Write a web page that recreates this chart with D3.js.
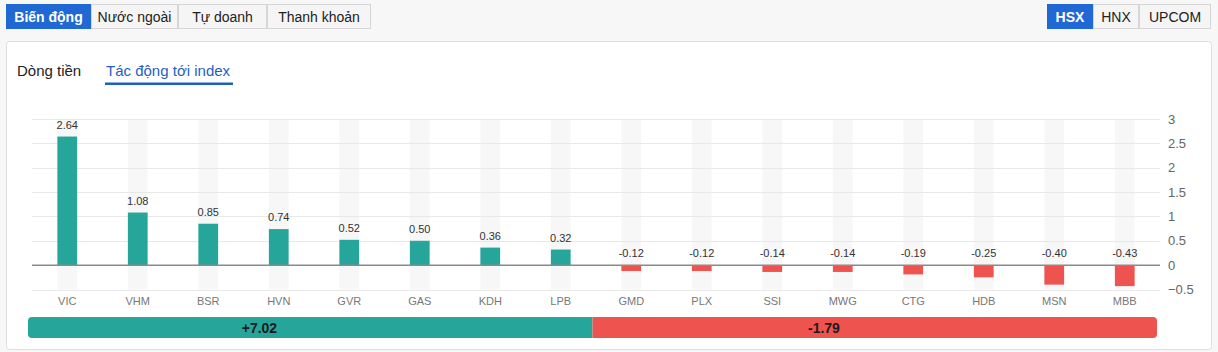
<!DOCTYPE html>
<html lang="vi">
<head>
  <meta charset="UTF-8">
  <title>Tác động tới index</title>
  <script src="https://d3js.org/d3.v7.min.js"></script>
  <style>
    body {
      margin: 0;
      padding: 0;
      background: #f7f7f8;
      font-family: Arial, "Liberation Sans", sans-serif;
    }
    svg { display: block; }
  </style>
</head>
<body>
  <svg id="chart" width="1218" height="352"></svg>

  <script>
    // data
    const tickers = ["VIC", "VHM", "BSR", "HVN", "GVR", "GAS", "KDH", "LPB",
                     "GMD", "PLX", "SSI", "MWG", "CTG", "HDB", "MSN", "MBB"];
    const impacts = [2.64, 1.08, 0.85, 0.74, 0.52, 0.50, 0.36, 0.32,
                     -0.12, -0.12, -0.14, -0.14, -0.19, -0.25, -0.40, -0.43];
    const yTicks = [3, 2.5, 2, 1.5, 1, 0.5, 0, -0.5];
    const totalUp = 7.02;
    const totalDown = -1.79;

    const leftTabs = ["Biến động", "Nước ngoài", "Tự doanh", "Thanh khoản"];
    const rightTabs = ["HSX", "HNX", "UPCOM"];
    const subTabs = ["Dòng tiền", "Tác động tới index"];

    const green = "#26a69a";
    const red = "#ef5350";

    const svg = d3.select("#chart");

    // button groups at the top
    function buttonGroup(labels, x0, widths, active) {
      let bx = x0;
      labels.forEach((label, i) => {
        const g = svg.append("g").attr("transform", `translate(${bx},4)`);
        g.append("rect")
          .attr("x", 0.5).attr("y", 0.5)
          .attr("width", widths[i] - 1).attr("height", 24)
          .attr("fill", i === active ? "#2068d4" : "#f5f5f5")
          .attr("stroke", i === active ? "#2068d4" : "#d6d6d6");
        g.append("text")
          .attr("x", widths[i] / 2).attr("y", 17.5)
          .attr("text-anchor", "middle")
          .attr("font-size", 14)
          .attr("fill", i === active ? "#fff" : "#222")
          .attr("font-weight", i === active ? "bold" : "normal")
          .text(label);
        bx += widths[i];
      });
    }
    buttonGroup(leftTabs, 6, [85, 87, 89, 104], 0);
    buttonGroup(rightTabs, 1047, [46, 46, 72], 0);

    // card
    svg.append("rect")
      .attr("x", 6.5).attr("y", 41.5)
      .attr("width", 1205).attr("height", 308)
      .attr("rx", 3)
      .attr("fill", "#fff")
      .attr("stroke", "#dedee2");

    // sub tabs
    svg.append("text")
      .attr("x", 17).attr("y", 76)
      .attr("font-size", 15).attr("fill", "#222")
      .text(subTabs[0]);
    svg.append("text")
      .attr("x", 106).attr("y", 76)
      .attr("font-size", 15).attr("fill", "#1f5fbf")
      .text(subTabs[1]);
    svg.append("rect")
      .attr("x", 105).attr("y", 82.5)
      .attr("width", 128).attr("height", 2.5)
      .attr("fill", "#1f5fbf");

    // chart area
    const plotLeft = 32, plotRight = 1160, plotTop = 119, plotBottom = 289.5;
    const x = d3.scaleBand().domain(tickers).range([plotLeft, plotRight])
      .paddingInner(0.72).paddingOuter(0.36);
    const y = d3.scaleLinear().domain([-0.5, 3]).range([plotBottom, plotTop]);

    // column backgrounds
    svg.append("g")
      .selectAll("rect")
      .data(tickers)
      .join("rect")
      .attr("x", d => x(d))
      .attr("y", plotTop)
      .attr("width", x.bandwidth())
      .attr("height", plotBottom - plotTop)
      .attr("fill", "#f7f7f7");

    // gridlines
    svg.append("g")
      .selectAll("line")
      .data(yTicks.filter(t => t !== 0))
      .join("line")
      .attr("x1", plotLeft).attr("x2", plotRight)
      .attr("y1", d => Math.round(y(d)) + 0.5)
      .attr("y2", d => Math.round(y(d)) + 0.5)
      .attr("stroke", "#e8e8e8");

    // right axis
    const yAxis = svg.append("g")
      .attr("transform", `translate(${plotRight},0)`)
      .call(d3.axisRight(y).tickValues(yTicks).tickSize(0).tickPadding(8).tickFormat(d3.format("")));
    yAxis.select(".domain").remove();
    yAxis.selectAll("text")
      .attr("font-size", 13)
      .attr("font-family", "Arial, 'Liberation Sans', sans-serif")
      .attr("fill", "#666");

    // bars
    svg.append("g")
      .selectAll("rect")
      .data(impacts)
      .join("rect")
      .attr("x", (d, i) => x(tickers[i]))
      .attr("y", d => y(Math.max(0, d)))
      .attr("width", x.bandwidth())
      .attr("height", d => Math.abs(y(d) - y(0)))
      .attr("fill", d => d >= 0 ? green : red);

    // zero line
    svg.append("line")
      .attr("x1", plotLeft).attr("x2", plotRight)
      .attr("y1", y(0)).attr("y2", y(0))
      .attr("stroke", "#8a8a8a")
      .attr("stroke-width", 1.5);

    // value labels
    svg.append("g")
      .selectAll("text")
      .data(impacts)
      .join("text")
      .attr("x", (d, i) => x(tickers[i]) + x.bandwidth() / 2)
      .attr("y", d => y(Math.max(0, d)) - 8)
      .attr("text-anchor", "middle")
      .attr("font-size", 11)
      .attr("fill", "#333")
      .text(d => d.toFixed(2));

    // category labels
    const xAxis = svg.append("g")
      .attr("transform", `translate(0,${plotBottom})`)
      .call(d3.axisBottom(x).tickSize(0).tickPadding(8));
    xAxis.select(".domain").remove();
    xAxis.selectAll("text")
      .attr("font-size", 11)
      .attr("font-family", "Arial, 'Liberation Sans', sans-serif")
      .attr("fill", "#777");

    // summary bar, split by number of gainers and losers
    const nUp = impacts.filter(d => d >= 0).length;
    const nDown = impacts.length - nUp;
    const s = d3.scaleLinear().domain([0, nUp + nDown]).range([28, 1157]);
    const sy = 317, sh = 21;

    svg.append("clipPath").attr("id", "sumClip")
      .append("rect")
      .attr("x", s(0)).attr("y", sy)
      .attr("width", s(nUp + nDown) - s(0)).attr("height", sh)
      .attr("rx", 4);

    const sg = svg.append("g").attr("clip-path", "url(#sumClip)");
    sg.append("rect")
      .attr("x", s(0)).attr("y", sy)
      .attr("width", s(nUp) - s(0)).attr("height", sh)
      .attr("fill", green);
    sg.append("rect")
      .attr("x", s(nUp)).attr("y", sy)
      .attr("width", s(nUp + nDown) - s(nUp)).attr("height", sh)
      .attr("fill", red);

    svg.append("text")
      .attr("x", s(nUp * 0.41)).attr("y", sy + 15.5)
      .attr("text-anchor", "middle")
      .attr("font-size", 14).attr("font-weight", "bold")
      .attr("fill", "#1b1b1b")
      .text("+" + totalUp.toFixed(2));
    svg.append("text")
      .attr("x", s(nUp + nDown * 0.41)).attr("y", sy + 15.5)
      .attr("text-anchor", "middle")
      .attr("font-size", 14).attr("font-weight", "bold")
      .attr("fill", "#1b1b1b")
      .text(totalDown.toFixed(2));
  </script>
</body>
</html>
